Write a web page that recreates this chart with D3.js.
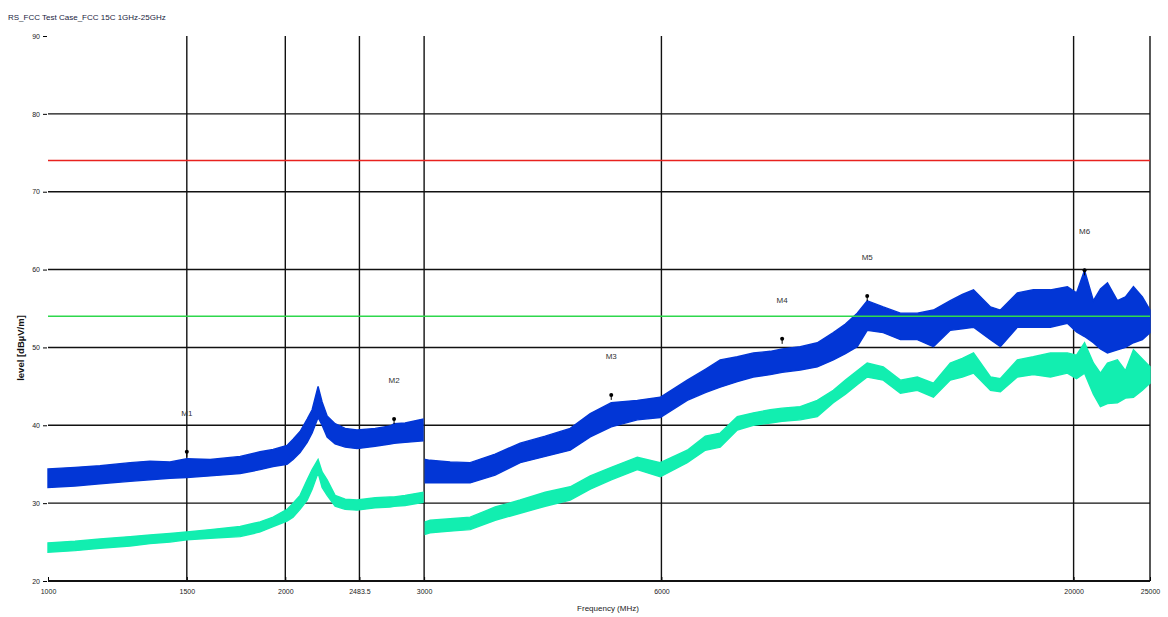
<!DOCTYPE html>
<html>
<head>
<meta charset="utf-8">
<script src="https://cdn.jsdelivr.net/npm/d3@7"></script>
<style>
  body { margin: 0; background: #fff; }
  svg { display: block; font-family: "Liberation Sans", Arial, sans-serif; }
</style>
</head>
<body>
<svg id="chart" width="1168" height="617"></svg>
<script>
// sweep frequencies in MHz, null marks the break between the two sweeps at 3 GHz
const freqs = [1000, 1082, 1164, 1271, 1347, 1428, 1500, 1606, 1753, 1858, 1930, 2010, 2046, 2088, 2132, 2163, 2201, 2227, 2260, 2313, 2382, 2466, 2600, 2716, 2748, 2838, 2990,
  null,
  3010, 3053, 3237, 3432, 3692, 3972, 4273, 4597, 4874, 5182, 5592, 5979, 6470, 6821, 7124, 7489, 7849, 8247, 8537, 9000, 9460, 9913, 10270, 10630, 10945,
  11470, 12060, 12670, 13280, 13950, 14450, 14930, 15690, 16150, 16970, 17780, 18690, 19640, 20170, 20650, 21190, 21630, 22080, 22730, 23270, 23820, 24450, 25000];

// peak trace, upper and lower edge of the noise band (dBµV/m)
const peakMax = [34.4, 34.6, 34.8, 35.2, 35.4, 35.3, 35.7, 35.6, 36.0, 36.6, 36.9, 37.4, 38.2, 39.2, 40.8, 42.0, 45.0, 43.0, 41.2, 40.2, 39.6, 39.4, 39.6, 39.9, 40.2, 40.3, 40.8,
  null,
  35.6, 35.5, 35.3, 35.2, 36.3, 37.7, 38.6, 39.6, 41.5, 42.9, 43.2, 43.6, 45.8, 47.2, 48.4, 48.8, 49.3, 49.5, 49.8, 50.1, 50.6, 51.9, 53.0, 54.4, 56.0,
  55.2, 54.4, 54.4, 54.8, 56.0, 56.8, 57.4, 55.2, 54.8, 57.0, 57.4, 57.4, 57.8, 57.0, 59.9, 56.0, 57.5, 58.3, 56.0, 56.5, 57.8, 56.5, 54.8];
const peakMin = [32.0, 32.2, 32.5, 32.8, 33.0, 33.2, 33.3, 33.5, 33.8, 34.3, 34.7, 35.0, 35.6, 36.5, 37.8, 39.0, 41.0, 40.0, 38.5, 37.6, 37.2, 37.0, 37.3, 37.6, 37.7, 37.8, 38.0,
  null,
  32.6, 32.6, 32.6, 32.6, 33.6, 35.2, 36.0, 36.8, 38.5, 39.8, 40.7, 41.0, 43.2, 44.2, 44.9, 45.6, 46.2, 46.5, 46.8, 47.1, 47.5, 48.4, 49.2, 50.1, 52.2,
  51.9, 51.0, 51.0, 50.1, 52.2, 52.4, 52.6, 51.0, 50.1, 52.6, 52.6, 52.6, 53.1, 52.0, 51.4, 50.6, 49.8, 49.3, 49.7, 50.0, 50.6, 51.0, 51.9];

// average trace, upper and lower edge
const avgMax = [24.9, 25.1, 25.4, 25.7, 25.9, 26.1, 26.3, 26.6, 27.0, 27.6, 28.2, 29.2, 30.0, 31.0, 33.0, 34.3, 35.6, 34.0, 33.0, 31.0, 30.5, 30.4, 30.7, 30.8, 30.8, 31.0, 31.4,
  null,
  27.6, 27.8, 28.0, 28.2, 29.5, 30.4, 31.4, 32.1, 33.5, 34.6, 35.9, 35.2, 36.8, 38.6, 39.0, 41.1, 41.6, 42.0, 42.2, 42.4, 43.2, 44.5, 45.8, 47.0, 48.0,
  47.5, 45.8, 46.2, 45.4, 48.0, 48.6, 49.3, 46.2, 46.0, 48.4, 48.8, 49.3, 49.3, 49.0, 50.6, 48.0, 46.7, 48.0, 48.4, 47.0, 49.7, 48.5, 47.5];
const avgMin = [23.7, 23.9, 24.2, 24.5, 24.8, 25.0, 25.3, 25.5, 25.7, 26.3, 27.0, 27.7, 28.2, 29.2, 30.4, 31.8, 33.9, 32.0, 31.0, 29.6, 29.2, 29.1, 29.4, 29.5, 29.6, 29.7, 30.1,
  null,
  26.0, 26.2, 26.4, 26.6, 27.8, 28.7, 29.6, 30.4, 31.8, 33.0, 34.3, 33.4, 35.2, 36.8, 37.2, 39.4, 40.0, 40.3, 40.5, 40.7, 41.1, 42.9, 44.0, 45.2, 46.2,
  45.8, 44.1, 44.5, 43.6, 45.8, 46.2, 46.7, 44.5, 44.3, 46.2, 46.5, 46.2, 46.7, 46.0, 46.7, 44.0, 42.4, 42.8, 42.9, 43.5, 43.6, 44.5, 45.4];

const xTicks = [1000, 1500, 2000, 2483.5, 3000, 6000, 20000, 25000];
const yTicks = [20, 30, 40, 50, 60, 70, 80, 90];
const limits = [74, 54];

const markerNames = ["M1", "M2", "M3", "M4", "M5", "M6"];
const markerFreqs = [1500, 2748, 5182, 8537, 10945, 20650];
const markerLevels = [36.6, 40.8, 43.9, 51.1, 56.6, 59.9];

const svg = d3.select("#chart");
const x = d3.scaleLog().domain([1000, 25000]).range([48, 1150]);
const y = d3.scaleLinear().domain([20, 90]).range([581, 36]);

svg.append("text")
  .attr("x", 8).attr("y", 20)
  .attr("font-size", 8)
  .attr("fill", "#1a2440")
  .text("RS_FCC Test Case_FCC 15C 1GHz-25GHz");

// horizontal grid
svg.append("g")
  .selectAll("line")
  .data(yTicks.filter(d => d < 90))
  .join("line")
  .attr("x1", 48).attr("x2", 1150)
  .attr("y1", d => y(d)).attr("y2", d => y(d))
  .attr("stroke", "#111").attr("stroke-width", 1.4);

// vertical grid
svg.append("g")
  .selectAll("line")
  .data(xTicks.filter(d => d > 1000))
  .join("line")
  .attr("x1", d => x(d)).attr("x2", d => x(d))
  .attr("y1", 36).attr("y2", 581)
  .attr("stroke", "#111").attr("stroke-width", 1.4);

// y axis ticks and labels
const yAxis = d3.axisLeft(y).tickValues(yTicks).tickSize(4).tickPadding(3);
svg.append("g")
  .attr("transform", "translate(47,0)")
  .call(yAxis)
  .call(g => g.select(".domain").remove())
  .call(g => g.selectAll("text").attr("font-size", 7).attr("fill", "#222"));

// x axis ticks and labels
const xAxis = d3.axisBottom(x).tickValues(xTicks).tickFormat(d => String(d)).tickSize(4).tickPadding(4);
svg.append("g")
  .attr("transform", "translate(0,581)")
  .call(xAxis)
  .call(g => g.select(".domain").remove())
  .call(g => g.selectAll(".tick line").attr("y1", -4).attr("y2", 0))
  .call(g => g.selectAll("text").attr("font-size", 7).attr("fill", "#222"));

svg.append("text")
  .attr("x", 608).attr("y", 611)
  .attr("text-anchor", "middle")
  .attr("font-size", 8)
  .attr("fill", "#222")
  .text("Frequency (MHz)");

svg.append("text")
  .attr("transform", "translate(24,348) rotate(-90)")
  .attr("text-anchor", "middle")
  .attr("font-size", 9.5)
  .attr("font-weight", "bold")
  .attr("fill", "#111")
  .text("level [dBµV/m]");

// traces drawn as noise bands
const idx = d3.range(freqs.length);
function band(hi, lo) {
  return d3.area()
    .defined(i => freqs[i] !== null)
    .x(i => x(freqs[i]))
    .y0(i => y(lo[i]))
    .y1(i => y(hi[i]));
}

svg.append("path")
  .datum(idx)
  .attr("d", band(avgMax, avgMin))
  .attr("fill", "#12eeb0")
  .attr("stroke", "#12eeb0")
  .attr("stroke-width", 1.4);

svg.append("path")
  .datum(idx)
  .attr("d", band(peakMax, peakMin))
  .attr("fill", "#0236d6")
  .attr("stroke", "#0236d6")
  .attr("stroke-width", 1.4);

// limit lines
svg.append("g")
  .selectAll("line")
  .data(limits)
  .join("line")
  .attr("x1", 48).attr("x2", 1150)
  .attr("y1", d => y(d)).attr("y2", d => y(d))
  .attr("stroke", (d, i) => i === 0 ? "#e8221e" : "#2ed84c")
  .attr("stroke-width", 1.6);

// bottom axis line
svg.append("line")
  .attr("x1", 48).attr("x2", 1150)
  .attr("y1", 581).attr("y2", 581)
  .attr("stroke", "#111").attr("stroke-width", 2.2);

// markers
const markers = svg.append("g")
  .selectAll("g")
  .data(markerNames)
  .join("g")
  .attr("transform", (d, i) => `translate(${x(markerFreqs[i])},${y(markerLevels[i])})`);

markers.append("line").attr("y1", 0).attr("y2", 5).attr("stroke", "#000").attr("stroke-width", 1);
markers.append("circle").attr("r", 2).attr("fill", "#000");
markers.append("text")
  .attr("y", -36)
  .attr("text-anchor", "middle")
  .attr("font-size", 8)
  .attr("fill", "#333")
  .text(d => d);
</script>
</body>
</html>
